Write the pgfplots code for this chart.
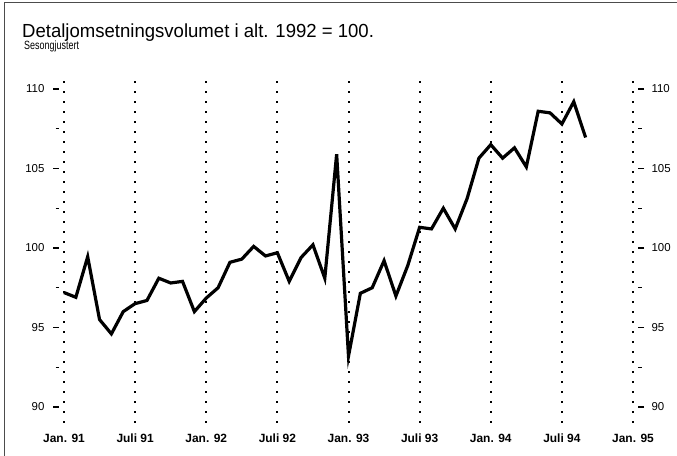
\documentclass[border=0pt]{standalone}
\usepackage{fontspec}
\setmainfont{Liberation Sans}
\usepackage{pgfplots}
\pgfplotsset{compat=1.18}
\begin{document}
\begin{tikzpicture}
\useasboundingbox (0,0) rectangle (677bp,456bp);
\draw[black!70, line width=1bp] (4bp,0) -- (4bp,453bp) -- (677bp,453bp);
\node[anchor=base west, inner sep=0pt, font=\fontsize{19}{21}\selectfont] at (22bp,418.3bp) {\scalebox{0.98}[1]{Detaljomsetningsvolumet i alt. 1992 = 100.}};
\node[anchor=base west, inner sep=0pt, font=\fontsize{12}{14}\selectfont] at (24bp,406bp) {\scalebox{0.75}[1]{Sesongjustert}};
\begin{axis}[
  at={(59bp,33.1bp)}, anchor=south west, scale only axis,
  width=579bp, height=349.8bp,
  xmin=-0.42, xmax=48.42, ymin=89, ymax=111,
  axis lines*=left, axis line style={draw=none},
  xtick={0,6,...,48},
  xticklabels={Jan. 91,Juli 91,Jan. 92,Juli 92,Jan. 93,Juli 93,Jan. 94,Juli 94,Jan. 95},
  major x tick style={draw=none},
  xticklabel style={font=\bfseries\fontsize{12}{13}\selectfont, yshift=-1.5bp},
  xmajorgrids,
  major x grid style={black, line width=2bp, dash pattern=on 2bp off 8bp},
  ytick={90,95,...,110}, minor ytick={92.5,97.5,102.5,107.5},
  yticklabels={90,95,100,105,110},
  yticklabel style={font=\fontsize{11.5}{13}\selectfont, xshift=-5bp},
  tick align=outside, major tick length=6bp, minor tick length=3.5bp,
  every tick/.style={black, line width=1.2bp},
  /pgf/number format/assume math mode=true,
  clip=false,
]
\addplot[black, line width=3.2bp, line join=miter, miter limit=10] table {
x y
0 97.2
1 96.9
2 99.45
3 95.5
4 94.6
5 96.0
6 96.5
7 96.7
8 98.1
9 97.8
10 97.9
11 96.0
12 96.85
13 97.5
14 99.1
15 99.3
16 100.1
17 99.5
18 99.7
19 97.9
20 99.4
21 100.2
22 98.1
23 105.9
24 93.2
25 97.15
26 97.5
27 99.2
28 96.98
29 98.9
30 101.3
31 101.2
32 102.5
33 101.2
34 103.1
35 105.65
36 106.5
37 105.65
38 106.3
39 105.1
40 108.6
41 108.5
42 107.8
43 109.2
44 106.95
};
\end{axis}
\begin{axis}[
  at={(59bp,33.1bp)}, anchor=south west, scale only axis,
  width=579bp, height=349.8bp,
  xmin=-0.42, xmax=48.42, ymin=89, ymax=111,
  axis y line*=right, axis x line=none, axis line style={draw=none},
  ytick={90,95,...,110}, minor ytick={92.5,97.5,102.5,107.5},
  yticklabels={90,95,100,105,110},
  yticklabel style={font=\fontsize{11.5}{13}\selectfont, xshift=4bp},
  tick align=outside, major tick length=6bp, minor tick length=3.5bp,
  every tick/.style={black, line width=1.2bp},
  /pgf/number format/assume math mode=true,
]
\addplot[draw=none] coordinates {(0,100)};
\end{axis}
\end{tikzpicture}
\end{document}
